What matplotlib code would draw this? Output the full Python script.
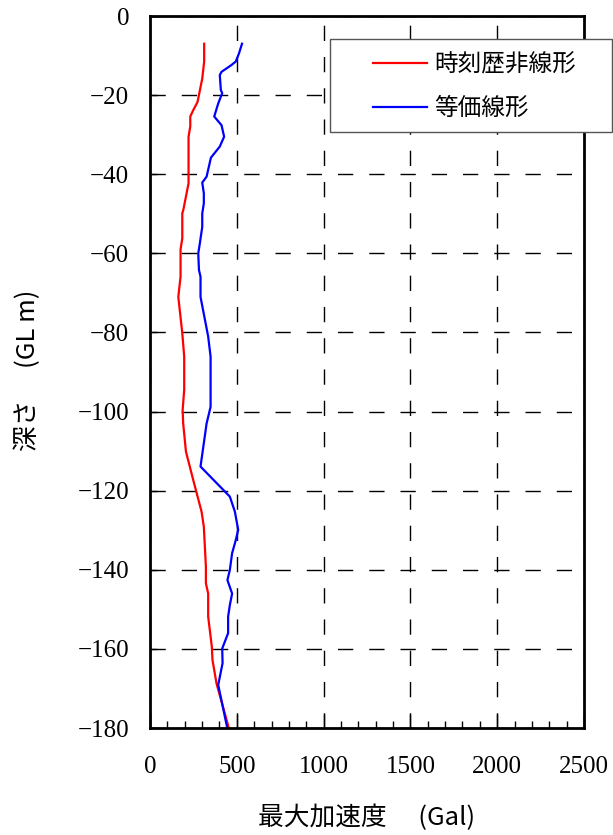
import numpy as np
import matplotlib
matplotlib.use("Agg")
import matplotlib.pyplot as plt
from matplotlib.patches import Rectangle

plt.rcParams['font.family'] = ['Liberation Serif', 'Noto Sans CJK JP']
plt.rcParams['axes.unicode_minus'] = True

# depth (m) and peak acceleration (Gal)
red_depth = [-7, -11.5, -15.8, -21.7, -23.8, -25.4, -27.9, -30.5, -42.3, -49.0, -49.9,
             -56.2, -59.0, -65.9, -71.0, -80.2, -86.1, -94.5, -99.6, -102.9, -110.1,
             -117.3, -125.3, -129.1, -139.2, -143.4, -146.0, -151.8, -159.4, -162.8,
             -168.7, -180]
red_acc = [312, 312, 301, 274, 249, 232, 232, 222, 222, 192, 186,
           186, 176, 176, 163, 186, 197, 197, 188, 191, 207,
           249, 297, 310, 322, 322, 335, 335, 356, 360,
           383, 454]

blue_depth = [-7, -9.4, -11.5, -12.4, -14.1, -14.9, -18.7, -19.5, -22.1, -25.4, -27.6,
              -30.5, -33.0, -35.8, -38.1, -40.6, -42.1, -44.8, -47.4, -49.9, -53.3,
              -57.5, -60.0, -64.2, -65.9, -71.0, -81.0, -86.1, -98.8, -103.0, -113.9,
              -121.5, -125.3, -129.9, -132.5, -135.8, -140.0, -142.6, -146.0, -148.9,
              -151.8, -156.0, -159.9, -163.6, -169.1, -180]
blue_acc = [530, 513, 494, 469, 412, 402, 408, 416, 393, 370, 412,
            427, 402, 351, 339, 326, 301, 310, 310, 301, 301,
            287, 278, 282, 291, 291, 335, 349, 349, 326, 291,
            460, 489, 508, 494, 473, 460, 446, 473, 460,
            450, 450, 416, 418, 393, 445]

labels = ['時刻歴非線形', '等価線形']

fig = plt.figure(figsize=(6.13, 8.35), dpi=100)
ax = fig.add_axes([0.2447, 0.1281, 0.7080, 0.8527])

l1, = ax.plot(red_acc, red_depth, color='#ff0000', lw=1.6, label=labels[0])
l2, = ax.plot(blue_acc, blue_depth, color='#0000ff', lw=1.6, label=labels[1])

ax.set_xlim(0, 2500)
ax.set_ylim(-180, 0)
ax.set_xticks(np.arange(0, 2501, 500))
ax.set_xticks(np.arange(0, 2501, 100), minor=True)
ax.set_yticks(np.arange(-180, 1, 20))
ax.tick_params(axis='both', which='major', direction='in', labelsize=18, width=1, color='black')
ax.tick_params(axis='x', which='major', length=10, pad=20)
ax.tick_params(axis='y', which='major', length=5, pad=15)
ax.tick_params(axis='x', which='minor', direction='in', length=5, width=1)
for s in ax.spines.values():
    s.set_linewidth(2)

ax.grid(True, which='major', color='black', lw=1, linestyle=(0, (11, 11.5)))

ax.set_xlabel('最大加速度　 (Gal)', fontsize=18.5, family=['Noto Sans CJK JP'])
ax.set_ylabel('深さ　 (GL m)', fontsize=18.5, family=['Noto Sans CJK JP'])
ax.xaxis.set_label_coords(0.5, -0.126)
ax.xaxis.label.set_va('center')
ax.yaxis.set_label_coords(-0.281, 0.503)
ax.yaxis.label.set_va('center')

# legend box, partly outside the axes
box = Rectangle((330 / 613, 1 - 132 / 835), 282 / 613, 93 / 835, transform=fig.transFigure,
                facecolor='white', edgecolor='#555555', lw=1, zorder=5)
fig.patches.append(box)
leg = fig.legend(handles=[l1, l2], loc='upper left', bbox_to_anchor=(373 / 613, 1 - 53 / 835),
                 frameon=False, prop={'family': ['Noto Sans CJK JP'], 'size': 17},
                 handlelength=2.3, handletextpad=0.3, labelspacing=0.9,
                 borderpad=0, borderaxespad=0)
leg.set_zorder(6)

fig.savefig('out.png', dpi=100)
